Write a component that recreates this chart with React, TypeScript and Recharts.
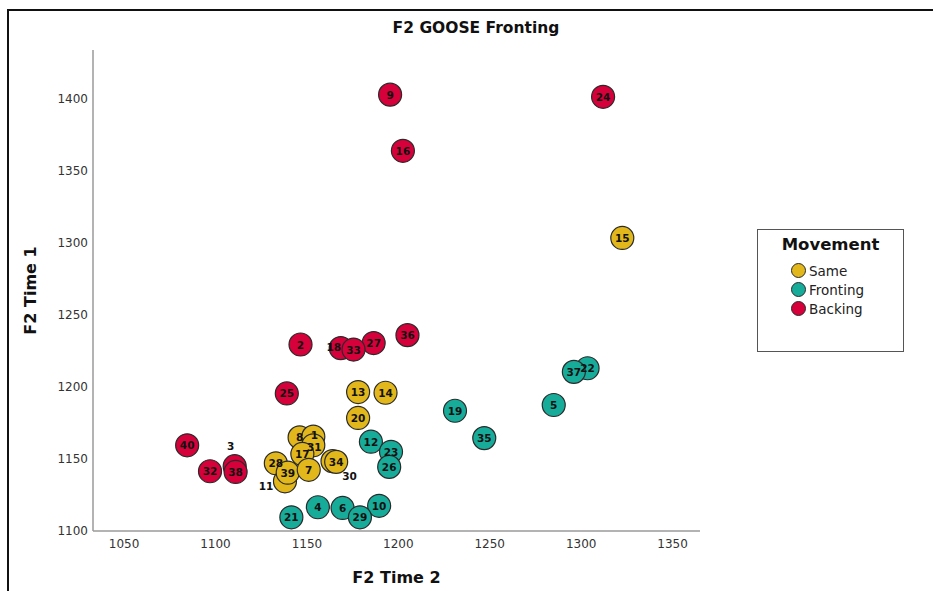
import { Legend, Scatter, ScatterChart, XAxis, YAxis } from 'recharts';

// Same
const sameIds = [15, 13, 14, 20, 8, 1, 31, 17, 28, 11, 39, 7, 30, 34];
const sameT2 = [1322.5, 1178, 1193, 1178, 1146, 1153.5, 1153.5, 1147.5, 1133, 1138, 1139.5, 1151, 1164, 1166];
const sameT1 = [1303.5, 1196.5, 1196, 1178.5, 1165, 1165.5, 1159.5, 1153.5, 1147, 1134.5, 1140.5, 1142.5, 1148.5, 1148];

// Fronting
const frontIds = [22, 37, 5, 19, 35, 12, 23, 26, 21, 4, 6, 10, 29];
const frontT2 = [1303.5, 1296, 1285, 1231, 1247, 1185, 1196, 1195, 1141.5, 1156, 1169.5, 1189.5, 1179];
const frontT1 = [1213, 1210.5, 1187.5, 1183.5, 1164.5, 1162, 1155, 1144.5, 1109.5, 1116.5, 1116, 1117.5, 1109.5];

// Backing
const backIds = [9, 24, 16, 2, 36, 27, 18, 33, 25, 40, 32, 3, 38];
const backT2 = [1195.5, 1312, 1202.5, 1146.5, 1205, 1186.5, 1168.5, 1175.5, 1139, 1084.5, 1097, 1110.5, 1111];
const backT1 = [1403, 1401.5, 1364, 1229.5, 1236, 1230.5, 1227, 1226, 1195.5, 1159.5, 1141.5, 1145, 1141];

const xTicks = [1050, 1100, 1150, 1200, 1250, 1300, 1350];
const yTicks = [1100, 1150, 1200, 1250, 1300, 1350, 1400];

// labels SPSS moved off overlapping markers
const labelShift: Record<number, [number, number]> = {
  3: [-4, -20],
  11: [-19, 5],
  30: [17, 15],
  18: [-7, -1],
  1: [1, -2],
  31: [1, 2],
};

type Pt = { id: number; t2: number; t1: number };

const build = (ids: number[], xs: number[], ys: number[]): Pt[] =>
  ids.map((id, i) => ({ id, t2: xs[i], t1: ys[i] }));

const groups = [
  { name: 'Same', color: '#e2b71b', data: build(sameIds, sameT2, sameT1) },
  { name: 'Fronting', color: '#17ab9a', data: build(frontIds, frontT2, frontT1) },
  { name: 'Backing', color: '#d6003b', data: build(backIds, backT2, backT1) },
];

const allPoints = groups.flatMap((g) => g.data);

const FONT = '"DejaVu Sans", sans-serif';

const Dot = (color: string) => (props: any) => (
  <circle cx={props.cx} cy={props.cy} r={11.5} fill={color} stroke="#2a2a2a" strokeWidth={1.2} />
);

const Tag = (props: any) => {
  const id = props.payload.id as number;
  const [dx, dy] = labelShift[id] ?? [0, 0];
  return (
    <text
      x={props.cx + dx}
      y={props.cy + dy}
      textAnchor="middle"
      dominantBaseline="central"
      fontFamily={FONT}
      fontSize={10.5}
      fontWeight="bold"
      fill="#111"
    >
      {id}
    </text>
  );
};

const LegendBox = () => (
  <div
    style={{
      width: 147,
      height: 123,
      border: '1.5px solid #555',
      boxSizing: 'border-box',
      background: '#fff',
      fontFamily: FONT,
      paddingTop: 5,
    }}
  >
    <div style={{ textAlign: 'center', fontWeight: 'bold', fontSize: 16.5, color: '#111', marginBottom: 7 }}>Movement</div>
    {groups.map((g) => (
      <div key={g.name} style={{ display: 'flex', alignItems: 'center', marginLeft: 33, height: 19 }}>
        <span
          style={{
            display: 'inline-block',
            width: 13,
            height: 13,
            borderRadius: '50%',
            background: g.color,
            border: '1px solid #2a2a2a',
            marginRight: 3,
          }}
        />
        <span style={{ fontSize: 13.5, color: '#222' }}>{g.name}</span>
      </div>
    ))}
  </div>
);

export default function App() {
  return (
    <div style={{ position: 'absolute', left: 0, top: 0, width: 933, height: 591, background: '#fff' }}>
      <div
        style={{
          position: 'absolute',
          left: 7,
          top: 9,
          width: 926,
          height: 582,
          borderTop: '2px solid #111',
          borderLeft: '2px solid #111',
        }}
      />
      <div
        style={{
          position: 'absolute',
          left: 0,
          top: 19,
          width: 952,
          textAlign: 'center',
          fontFamily: FONT,
          fontWeight: 'bold',
          fontSize: 15.5,
          color: '#111',
        }}
      >
        F2 GOOSE Fronting
      </div>
      <ScatterChart width={933} height={591} margin={{ top: 50, right: 233, bottom: 30, left: 33 }}>
        <XAxis
          type="number"
          dataKey="t2"
          domain={[1033, 1365]}
          ticks={xTicks}
          allowDataOverflow
          height={30}
          tickLine={false}
          axisLine={{ stroke: '#9a9a9a', strokeWidth: 1.5 }}
          tick={{ fill: '#333', fontSize: 12, fontFamily: FONT }}
          label={(p: any) => (
            <text
              x={p.viewBox.x + p.viewBox.width / 2}
              y={577}
              textAnchor="middle"
              dominantBaseline="central"
              fontFamily={FONT}
              fontWeight="bold"
              fontSize={16}
              fill="#111"
            >
              F2 Time 2
            </text>
          )}
        />
        <YAxis
          type="number"
          dataKey="t1"
          domain={[1100, 1434]}
          ticks={yTicks}
          allowDataOverflow
          width={60}
          tickLine={false}
          tickSize={3}
          tickMargin={2}
          axisLine={{ stroke: '#9a9a9a', strokeWidth: 1.5 }}
          tick={{ fill: '#333', fontSize: 12, fontFamily: FONT }}
          label={(p: any) => {
            const cy = p.viewBox.y + p.viewBox.height / 2;
            return (
              <text
                x={30}
                y={cy}
                transform={`rotate(-90 30 ${cy})`}
                textAnchor="middle"
                dominantBaseline="central"
                fontFamily={FONT}
                fontWeight="bold"
                fontSize={16}
                fill="#111"
              >
                F2 Time 1
              </text>
            );
          }}
        />
        {groups.map((g) => (
          <Scatter
            key={g.name}
            name={g.name}
            data={g.data}
            fill={g.color}
            shape={Dot(g.color)}
            isAnimationActive={false}
          />
        ))}
        <Scatter name="labels" data={allPoints} shape={Tag} legendType="none" isAnimationActive={false} />
        <Legend
          layout="horizontal"
          verticalAlign="middle"
          align="center"
          content={() => <LegendBox />}
          wrapperStyle={{ position: 'absolute', left: 757, top: 229, width: 147, height: 123 }}
        />
      </ScatterChart>
    </div>
  );
}
